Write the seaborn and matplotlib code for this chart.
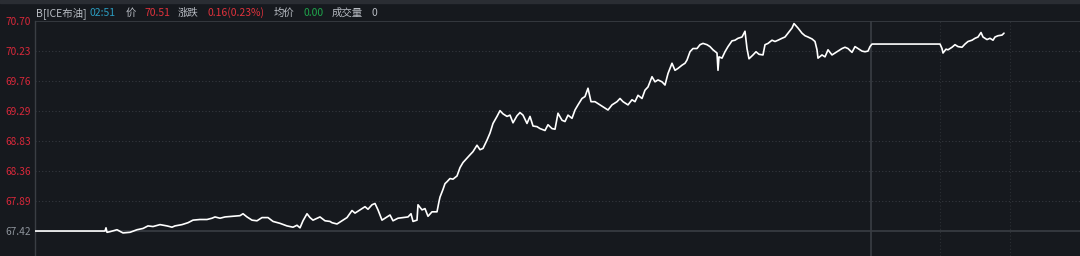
import matplotlib
matplotlib.use("Agg")
import matplotlib.pyplot as plt
import seaborn as sns
import pandas as pd

# ---- data ----
minute = [0, 70, 71, 72, 75, 82, 88, 95, 102, 108, 113, 118, 125, 132, 137, 140, 147, 153, 158,
          165, 172, 177, 180, 185, 190, 197, 205, 208, 212, 217, 222, 227, 233, 238, 245, 252,
          258, 262, 265, 268, 272, 275, 278, 285, 290, 295, 297, 302, 307, 312, 317, 320, 325,
          330, 333, 337, 340, 343, 347, 350, 355, 358, 363, 368, 373, 376, 378, 382, 383, 387,
          390, 393, 397, 402, 404, 405, 408, 410, 412, 415, 418, 422, 425, 428, 432, 435, 438,
          442, 445, 448, 452, 455, 458, 462, 465, 468, 472, 475, 478, 482, 485, 488, 492, 495,
          498, 502, 505, 510, 513, 517, 520, 523, 527, 530, 533, 537, 540, 543, 547, 550, 553,
          556, 560, 565, 570, 573, 577, 582, 585, 588, 593, 597, 600, 603, 607, 610, 613, 617,
          620, 623, 627, 630, 633, 637, 640, 643, 647, 650, 652, 655, 658, 662, 665, 668, 672,
          675, 678, 682, 683, 684, 687, 690, 693, 697, 700, 703, 707, 710, 712, 714, 718, 721,
          724, 728, 730, 733, 737, 740, 743, 747, 750, 753, 757, 759, 763, 767, 770, 773, 777,
          780, 782, 783, 787, 790, 793, 797, 800, 803, 807, 810, 813, 817, 820, 823, 827, 830,
          833, 835, 837, 905, 907, 908, 911, 913, 917, 920, 923, 927, 930, 933, 937, 940, 943,
          946, 948, 952, 955, 958, 960, 963, 967, 969]
price = [67.42, 67.42, 67.47, 67.40, 67.41, 67.44, 67.39, 67.40, 67.44, 67.46, 67.50, 67.49,
         67.52, 67.50, 67.48, 67.50, 67.52, 67.55, 67.59, 67.60, 67.60, 67.62, 67.64, 67.62,
         67.64, 67.65, 67.66, 67.69, 67.64, 67.59, 67.58, 67.63, 67.63, 67.57, 67.54, 67.50,
         67.48, 67.51, 67.47, 67.58, 67.69, 67.63, 67.59, 67.64, 67.58, 67.57, 67.55, 67.53,
         67.58, 67.63, 67.74, 67.70, 67.75, 67.80, 67.76, 67.83, 67.85, 67.75, 67.59, 67.62,
         67.67, 67.58, 67.62, 67.63, 67.64, 67.69, 67.57, 67.59, 67.83, 67.75, 67.77, 67.65,
         67.72, 67.72, 67.88, 67.95, 68.07, 68.16, 68.19, 68.24, 68.23, 68.28, 68.41, 68.49,
         68.56, 68.61, 68.66, 68.76, 68.69, 68.71, 68.84, 68.95, 69.10, 69.21, 69.30, 69.25,
         69.21, 69.23, 69.11, 69.22, 69.27, 69.23, 69.10, 69.21, 69.06, 69.05, 69.02, 68.99,
         69.08, 69.02, 69.01, 69.26, 69.15, 69.13, 69.23, 69.18, 69.31, 69.39, 69.49, 69.52,
         69.65, 69.44, 69.44, 69.39, 69.34, 69.31, 69.39, 69.44, 69.49, 69.44, 69.39, 69.47,
         69.44, 69.54, 69.49, 69.62, 69.67, 69.83, 69.75, 69.78, 69.75, 69.70, 69.88, 70.04,
         69.93, 69.96, 70.01, 70.04, 70.09, 70.22, 70.27, 70.27, 70.33, 70.35, 70.33, 70.30,
         70.25, 70.20, 69.93, 70.14, 70.12, 70.22, 70.30, 70.39, 70.40, 70.43, 70.45, 70.54,
         70.27, 70.11, 70.17, 70.22, 70.18, 70.17, 70.33, 70.35, 70.40, 70.38, 70.40, 70.43,
         70.45, 70.51, 70.59, 70.66, 70.59, 70.51, 70.47, 70.45, 70.42, 70.38, 70.25, 70.12,
         70.17, 70.14, 70.25, 70.17, 70.20, 70.23, 70.27, 70.29, 70.27, 70.21, 70.30, 70.27,
         70.23, 70.22, 70.23, 70.30, 70.34, 70.34, 70.27, 70.20, 70.26, 70.25, 70.29, 70.33,
         70.30, 70.29, 70.34, 70.38, 70.40, 70.43, 70.45, 70.52, 70.45, 70.41, 70.43, 70.40,
         70.45, 70.47, 70.48, 70.51]
tick_values = [67.42, 67.89, 68.36, 68.83, 69.29, 69.76, 70.23, 70.70]
tick_labels = ["67.42", "67.89", "68.36", "68.83", "69.29", "69.76", "70.23", "70.70"]
prev_close = 67.42
session_marks = [836, 905, 975]
header_items = [("B[ICE布油]", "#b9bdc4"), ("02:51", "#2b9cc0"), ("价", "#b9bdc4"),
                ("70.51", "#e0323c"), ("涨跌", "#b9bdc4"), ("0.16(0.23%)", "#e0323c"),
                ("均价", "#b9bdc4"), ("0.00", "#1fa64c"), ("成交量", "#b9bdc4"), ("0", "#b9bdc4")]

# ---- style ----
BG = "#16191e"
sns.set_theme(style="dark")
plt.rcParams["font.family"] = ["Noto Sans CJK SC", "DejaVu Sans"]

W, H = 1080, 256
fig = plt.figure(figsize=(W / 100, H / 100), dpi=100, facecolor=BG)
ax = fig.add_axes([35 / W, 0, 1 - 35 / W, 235 / H])
ax.set_facecolor(BG)

df = pd.DataFrame({"minute": minute, "price": price})
sns.lineplot(data=df, x="minute", y="price", ax=ax, color="white", lw=1.2,
             estimator=None, sort=False, zorder=5)

ax.set_xlim(0, 1045)
ax.set_ylim(67.03, 70.70)
ax.set_xlabel("")
ax.set_ylabel("")
ax.set_xticks([])
ax.set_yticks(tick_values)
ax.set_yticklabels(tick_labels)
ax.tick_params(axis="y", length=0, pad=3, labelsize=7.3)
for lbl, v in zip(ax.get_yticklabels(), tick_values):
    lbl.set_color("#8d939b" if v == prev_close else "#d8283a")
ax.grid(False)

# grid lines
for v in tick_values:
    if v == prev_close:
        ax.axhline(v, color="#3a3e44", lw=1.2, zorder=1)
    elif v == tick_values[-1]:
        ax.axhline(v, color="#3a3e44", lw=1.2, zorder=1)
    else:
        ax.axhline(v, color="#34383e", lw=0.8, ls=(0, (1, 2)), zorder=1)
ax.axvline(session_marks[0], color="#3a3e44", lw=1.2, zorder=1)
for m in session_marks[1:]:
    ax.axvline(m, color="#2c3035", lw=0.8, ls=(0, (1, 2)), zorder=1)

for s in ["top", "right", "bottom"]:
    ax.spines[s].set_visible(False)
ax.spines["left"].set_color("#3a3e44")
ax.spines["left"].set_linewidth(1.0)

# top tab strip
fig.patches.append(plt.Rectangle((0, 1 - 3 / H), 1, 3 / H, transform=fig.transFigure,
                                 color="#2a2d33", zorder=0))

# header
xs = [36, 89, 126, 144, 178, 207, 274, 303, 332, 371]
for (txt, col), x in zip(header_items, xs):
    fig.text(x / W, 1 - 13 / H, txt, color=col, fontsize=7.5, va="center", ha="left")

fig.savefig("out.png", dpi=100, facecolor=BG)
